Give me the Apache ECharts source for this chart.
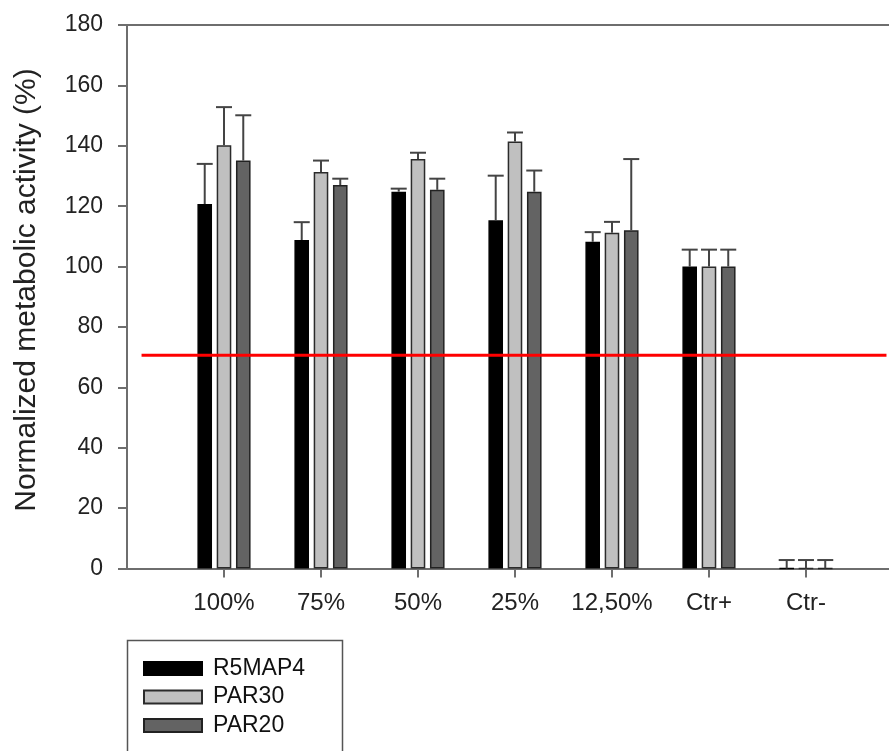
<!DOCTYPE html>
<html>
<head>
<meta charset="utf-8">
<script src="https://cdn.jsdelivr.net/npm/echarts@6/dist/echarts.min.js"></script>
<style>
html, body { margin: 0; padding: 0; background: #fff; }
#chart { width: 889px; height: 751px; }
</style>
</head>
<body>
<div id="chart"></div>
<script>
// ---- Data ----
const categories = ['100%', '75%', '50%', '25%', '12,50%', 'Ctr+', 'Ctr-'];
const seriesNames = ['R5MAP4', 'PAR30', 'PAR20'];
const r5map4 = [120.7, 108.8, 124.8, 115.3, 108.2, 100.0, 0];
const r5map4Err = [13.3, 5.9, 1.0, 14.8, 3.2, 5.6, 2.8];
const par30 = [140.2, 131.3, 135.6, 141.4, 111.2, 100.0, 0];
const par30Err = [12.6, 3.8, 2.1, 3.0, 3.6, 5.6, 2.8];
const par20 = [135.1, 127.0, 125.4, 124.8, 112.0, 100.0, 0];
const par20Err = [15.0, 2.1, 3.7, 7.0, 23.6, 5.6, 2.8];
const yTicks = [0, 20, 40, 60, 80, 100, 120, 140, 160, 180];
const threshold = 70.6;
const thresholdSpan = [0.15, 7.83];

// ---- Styles ----
const FONT = 'Liberation Sans, Arial, sans-serif';
const barWidth = 14.6;
const barGapRatio = 0.32;
const fills = ['#000000', '#c0c0c0', '#636363'];
const borders = ['#000000', '#2b2b2b', '#222222'];
const axisColor = '#6e6e6e';
const xMax = 7.856;

const values = [r5map4, par30, par20];
const errs = [r5map4Err, par30Err, par20Err];
const catPos = categories.map((_, i) => i + 1);

const chart = echarts.init(document.getElementById('chart'), null, { renderer: 'canvas' });

const barSeries = seriesNames.map((name, s) => ({
  name: name,
  type: 'bar',
  barWidth: barWidth,
  barGap: (barGapRatio * 100) + '%',
  data: values[s].map((v, i) => [catPos[i], v]),
  itemStyle: { color: fills[s], borderColor: borders[s], borderWidth: 1.5 },
  emphasis: { disabled: true },
  z: 2
}));

const errSeries = seriesNames.map((name, s) => ({
  type: 'custom',
  name: name + ' err',
  silent: true,
  z: 3,
  data: values[s].map((v, i) => [catPos[i], v, v + errs[s][i]]),
  renderItem: function (params, api) {
    const off = (s - 1) * barWidth * (1 + barGapRatio);
    const p0 = api.coord([api.value(0), api.value(1)]);
    const p1 = api.coord([api.value(0), api.value(2)]);
    const x = p0[0] + off;
    const half = 8;
    const style = { stroke: '#444', lineWidth: 2 };
    return {
      type: 'group',
      children: [
        { type: 'line', shape: { x1: x, y1: p0[1], x2: x, y2: p1[1] }, style: style },
        { type: 'line', shape: { x1: x - half, y1: p1[1], x2: x + half, y2: p1[1] }, style: style }
      ]
    };
  }
}));

const option = {
  backgroundColor: '#ffffff',
  animation: false,
  textStyle: { fontFamily: FONT },
  grid: { left: 127, top: 25, right: 0, bottom: 182.5, show: false },
  legend: {
    orient: 'vertical',
    left: 143, top: 657,
    data: seriesNames,
    icon: 'rect',
    itemWidth: 58, itemHeight: 13,
    itemGap: 5.5,
    padding: 0,
    selectedMode: false,
    textStyle: { fontFamily: FONT, fontSize: 23, lineHeight: 23, color: '#111', padding: [0, 0, 0, 6] }
  },
  xAxis: [{
    type: 'value',
    min: 0, max: xMax,
    splitLine: { show: false },
    axisLine: { show: true, onZero: false, lineStyle: { color: axisColor, width: 2 } },
    axisTick: { show: true, length: 9, customValues: catPos, lineStyle: { color: axisColor, width: 2 } },
    axisLabel: {
      customValues: catPos,
      margin: 23,
      fontSize: 24, fontFamily: FONT, color: '#222',
      formatter: function (v) { return categories[Math.round(v) - 1] || ''; }
    }
  }, {
    type: 'value',
    position: 'top',
    min: 0, max: xMax,
    splitLine: { show: false },
    axisLine: { show: true, onZero: false, lineStyle: { color: axisColor, width: 2 } },
    axisTick: { show: false },
    axisLabel: { show: false }
  }],
  yAxis: {
    type: 'value',
    min: 0, max: 180, interval: 20,
    splitLine: { show: false },
    axisLine: { show: true, lineStyle: { color: axisColor, width: 2 } },
    axisTick: { show: true, length: 9, lineStyle: { color: axisColor, width: 2 } },
    axisLabel: {
      margin: 24, fontSize: 23, fontFamily: FONT, color: '#222',
      formatter: function (v) { return yTicks.indexOf(v) >= 0 ? String(v) : ''; }
    }
  },
  graphic: [
    {
      type: 'text',
      x: 27, y: 290,
      rotation: Math.PI / 2,
      style: {
        text: 'Normalized metabolic activity (%)',
        font: '30px ' + FONT,
        fill: '#222',
        align: 'center',
        verticalAlign: 'middle'
      }
    },
    {
      type: 'rect',
      shape: { x: 127.5, y: 640.5, width: 215, height: 140 },
      style: { fill: 'none', stroke: '#555', lineWidth: 1.5 },
      z: 10
    }
  ],
  series: barSeries.concat(errSeries).concat([{
    type: 'line',
    name: 'threshold',
    silent: true,
    symbol: 'none',
    z: 5,
    data: thresholdSpan.map(x => [x, threshold]),
    lineStyle: { color: '#ff0000', width: 3 }
  }])
};

chart.setOption(option);
</script>
</body>
</html>
